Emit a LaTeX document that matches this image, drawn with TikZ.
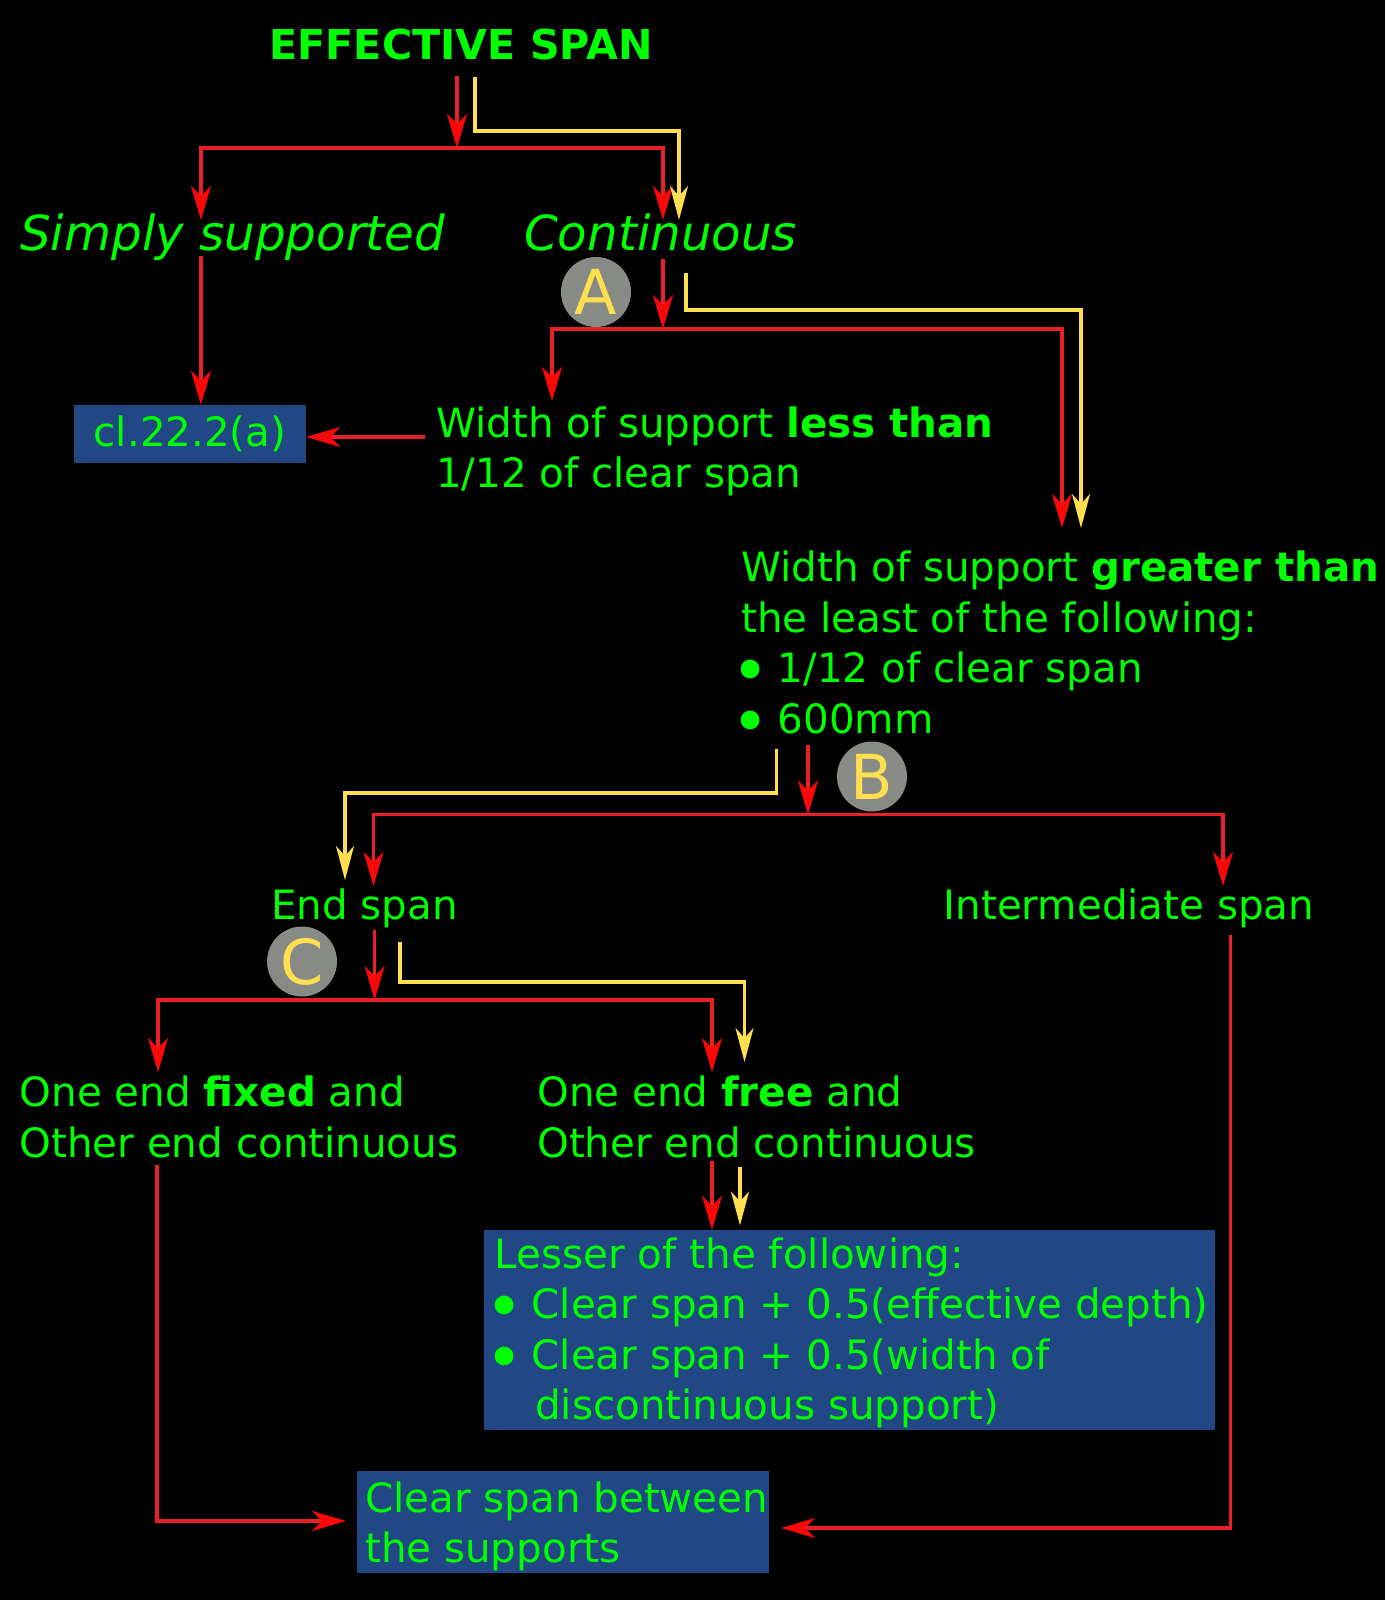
\documentclass[tikz,border=0pt]{standalone}
\usepackage{fontspec}
\usepackage{graphicx}
\setmainfont{DejaVu Sans}[BoldFont={DejaVu Sans Bold},ItalicFont={DejaVu Sans Oblique}]
\usetikzlibrary{arrows.meta}
\definecolor{lred}{RGB}{234,32,39}
\definecolor{tipred}{RGB}{250,8,8}
\definecolor{lyel}{RGB}{255,222,80}
\definecolor{tgreen}{RGB}{0,255,0}
\definecolor{bbox}{RGB}{33,71,133}
\definecolor{cgrey}{RGB}{136,138,133}
\newcommand\mybul{\makebox[0.908em][l]{\hspace{-0.23em}\raisebox{-0.28em}{\scalebox{1.6}{•}}}}
\tikzset{
  redarrow/.style={draw=lred, line width=3.5pt, -{Stealth[length=34pt,width=20pt,inset=10pt,color=tipred]}},
  yelarrow/.style={draw=lyel, line width=3.2pt, -{Stealth[length=34pt,width=18pt,inset=10pt,color=lyel]}},
  txt/.style={text=tgreen, font=\fontsize{40.4}{50}\selectfont, anchor=base west, inner sep=0pt},
  title/.style={text=tgreen, font=\fontsize{41.2}{50}\selectfont\bfseries, anchor=base, inner sep=0pt},
  itxt/.style={text=tgreen, font=\fontsize{48.3}{58}\selectfont\itshape, anchor=base west, inner sep=0pt},
  bluebox/.style={fill=bbox, draw=none, inner sep=0pt},
  badge/.style={circle, fill=cgrey, minimum size=70pt, inner sep=0pt, text=lyel, font=\fontsize{62}{62}\selectfont},
}
\begin{document}
\begin{tikzpicture}[x=1pt,y=-1pt]
\useasboundingbox (0,0) rectangle (1385,1600);
\fill[black] (0,0) rectangle (1385,1600);

% boxes
\node[bluebox, minimum width=232pt, minimum height=58pt, text=tgreen, font=\fontsize{40.4}{50}\selectfont] (cl) at (190,434) {cl.22.2(a)};
\node[bluebox, minimum width=731pt, minimum height=200pt] (lesser) at (849.5,1330) {};
\node[bluebox, minimum width=412pt, minimum height=102pt] (clear) at (563,1522) {};

% texts
\node[title] (es) at (461,60) {EFFECTIVE SPAN};
\node[itxt] (ss) at (20,250) {Simply supported};
\node[itxt] (co) at (524,250) {Continuous};
\node[txt] (lt1) at (436,437) {Width of support \textbf{less than}};
\node[txt] (lt2) at (436,487.5) {1/12 of clear span};
\node[txt] (gt1) at (741,581.5) {Width of support \textbf{greater than}};
\node[txt] (gt2) at (741,632) {the least of the following:};
\node[txt] (gt3) at (741,682.5) {\mybul 1/12 of clear span};
\node[txt] (gt4) at (741,733) {\mybul 600mm};
\node[txt] (end) at (271,919.5) {End span};
\node[txt] (int) at (943.5,919.5) {Intermediate span};
\node[txt] (fx1) at (19.4,1106.5) {One end \textbf{fixed} and};
\node[txt] (fx2) at (19.4,1157) {Other end continuous};
\node[txt] (fr1) at (537,1106.5) {One end \textbf{free} and};
\node[txt] (fr2) at (537,1157) {Other end continuous};
\node[txt] (ls1) at (494.7,1268) {Lesser of the following:};
\node[txt] (ls2) at (494.7,1318.5) {\mybul Clear span + 0.5(effective depth)};
\node[txt] (ls3) at (494.7,1369) {\mybul Clear span + 0.5(width of};
\node[txt] (ls4) at (535,1419.5) {discontinuous support)};
\node[txt] (cs1) at (365,1512) {Clear span between};
\node[txt] (cs2) at (365,1562.5) {the supports};

% badges
\node[badge] (bA) at (596,292) {A};
\node[badge] (bB) at (872,776.5) {B};
\node[badge] (bC) at (302,961.5) {C};

% coordinates
\coordinate (esr) at (457,76);
\coordinate (j1) at (457,148);
\coordinate (ssin) at (201,220);
\coordinate (coinr) at (663,220);
\coordinate (esy) at (475,77);
\coordinate (yc1) at (679,131);
\coordinate (coiny) at (679,220);
\coordinate (ssout) at (201,256);
\coordinate (coout) at (663,259);
\coordinate (jA) at (663,329);
\coordinate (ltin) at (552,401);
\coordinate (gtinr) at (1062,528);
\coordinate (coy) at (686,273);
\coordinate (yc2) at (1081,310);
\coordinate (gtiny) at (1081,528);
\coordinate (ltout) at (425,437);
\coordinate (gtouty) at (776.5,749);
\coordinate (yc3) at (345,793);
\coordinate (esiny) at (345,880);
\coordinate (gtoutr) at (808,745);
\coordinate (jB) at (808,814.5);
\coordinate (esinr) at (373.5,886);
\coordinate (isin) at (1223,886);
\coordinate (endoutr) at (374.6,930);
\coordinate (jC) at (374.6,1000);
\coordinate (fxin) at (158,1072);
\coordinate (frinr) at (712,1072);
\coordinate (endouty) at (400,942);
\coordinate (yc4) at (744.5,982);
\coordinate (friny) at (744.5,1062);
\coordinate (froutr) at (712,1161);
\coordinate (frouty) at (740,1167);
\coordinate (lsiny) at (740,1225.5);
\coordinate (fxout) at (157,1165);
\coordinate (ct1) at (346,1521);
\coordinate (isout) at (1230.7,935);
\coordinate (ct2) at (781,1528);

% connectors
\draw[redarrow] (esr) -- (j1);
\draw[redarrow] (j1) -| (ssin);
\draw[redarrow] (j1) -| (coinr);
\draw[yelarrow] (esy) |- (yc1) -- (coiny);
\draw[redarrow] (ssout) -- (ssout |- cl.north);
\draw[redarrow] (coout) -- (jA);
\draw[redarrow] (jA) -| (ltin);
\draw[redarrow] (jA) -| (gtinr);
\draw[yelarrow] (coy) |- (yc2) -- (gtiny);
\draw[redarrow] (ltout) -- (cl.east |- ltout);
\draw[yelarrow] (gtouty) |- (yc3) -- (esiny);
\draw[redarrow] (gtoutr) -- (jB);
\draw[redarrow] (jB) -| (esinr);
\draw[redarrow] (jB) -| (isin);
\draw[redarrow] (endoutr) -- (jC);
\draw[redarrow] (jC) -| (fxin);
\draw[redarrow] (jC) -| (frinr);
\draw[yelarrow] (endouty) |- (yc4) -- (friny);
\draw[redarrow] (froutr) -- (froutr |- lesser.north);
\draw[yelarrow] (frouty) -- (lsiny);
\draw[redarrow] (fxout) |- (ct1);
\draw[redarrow] (isout) |- (ct2);
\end{tikzpicture}
\end{document}
